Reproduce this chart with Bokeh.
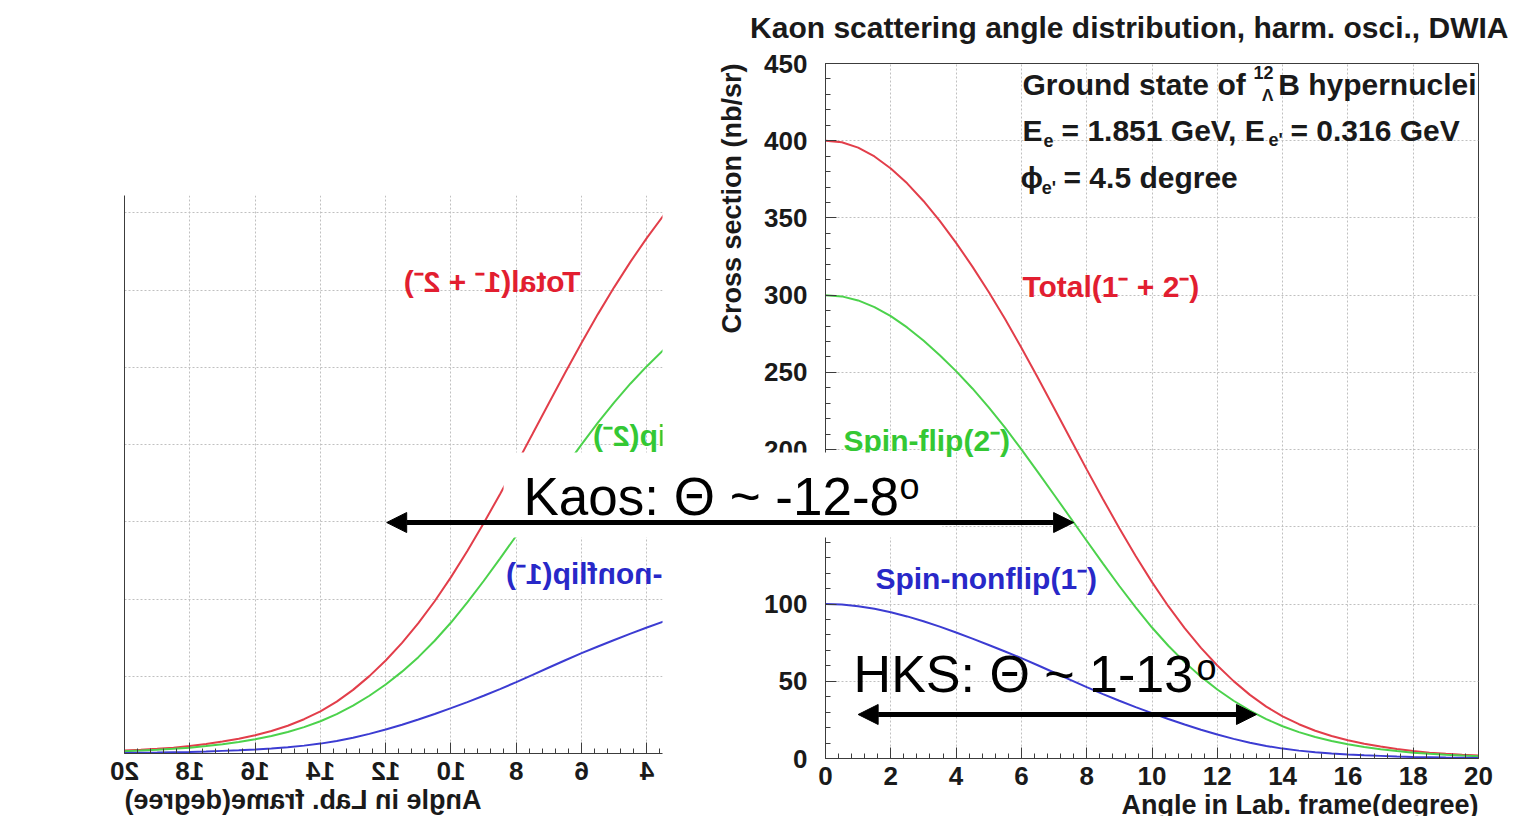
from math import pi

from bokeh.embed import file_html
from bokeh.models import (Arrow, BoxAnnotation, ColumnDataSource, Label, LinearAxis,
                          NormalHead, Range1d, SingleIntervalTicker)
from bokeh.plotting import figure
from bokeh.resources import INLINE

# ---------------------------------------------------------------- data
angle_deg = [0.0, 0.5, 1.0, 1.5, 2.0, 2.5, 3.0, 3.5, 4.0, 4.5,
             5.0, 5.5, 6.0, 6.5, 7.0, 7.5, 8.0, 8.5, 9.0, 9.5,
             10.0, 10.5, 11.0, 11.5, 12.0, 12.5, 13.0, 13.5, 14.0, 14.5,
             15.0, 15.5, 16.0, 16.5, 17.0, 17.5, 18.0, 18.5, 19.0, 19.5, 20.0]

# cross sections in nb/sr
spin_nonflip = [100.0, 99.7, 98.6, 96.9, 94.7, 92.0, 88.9, 85.4, 81.6, 77.6,
                73.5, 69.3, 65.0, 60.4, 55.7, 50.9, 46.2, 41.7, 37.4, 33.3,
                29.4, 25.6, 22.0, 18.6, 15.5, 12.7, 10.2, 8.1, 6.4, 5.1,
                4.1, 3.3, 2.6, 2.1, 1.7, 1.3, 1.0, 0.8, 0.6, 0.5, 0.4]
spin_flip = [300.0, 299.2, 296.6, 292.3, 286.4, 279.1, 270.6, 261.1, 250.8, 239.6,
             227.4, 214.2, 200.2, 185.6, 170.8, 155.9, 141.0, 126.2, 111.7, 97.8,
             84.8, 73.0, 62.4, 53.0, 44.7, 37.4, 31.0, 25.5, 20.9, 17.1,
             13.9, 11.3, 9.2, 7.4, 6.0, 4.8, 3.8, 3.0, 2.4, 1.9, 1.5]
total = [400.0, 399.0, 395.5, 389.8, 382.0, 372.4, 361.0, 348.1, 333.9, 318.5,
         302.0, 284.5, 266.0, 246.7, 226.9, 207.0, 187.2, 167.9, 149.1, 131.1,
         114.2, 98.6, 84.4, 71.6, 60.2, 50.1, 41.2, 33.6, 27.3, 22.2,
         18.0, 14.6, 11.8, 9.5, 7.7, 6.1, 4.8, 3.8, 3.0, 2.4, 1.9]

series_keys = ["total", "spin_flip", "spin_nonflip"]
series_names = ["Total(1\u207b + 2\u207b)", "Spin-flip(2\u207b)", "Spin-nonflip(1\u207b)"]
line_colors = ["#e23e4a", "#4cd24c", "#3c3cd2"]
text_colors = ["#e21e30", "#34c834", "#2828c8"]

# acceptance ranges of the two spectrometers (degrees)
kaos_range = [-12.0, 7.6]
hks_range = [1.0, 13.2]
kaos_level = 152.8
hks_level = 28.5

# ------------------------------------------------------------ geometry
W, H = 1515, 816
PX_DEG = 32.65          # pixels per degree on both panels
PX_NB = 1.5444          # pixels per nb/sr on both panels
R_LEFT, R_RIGHT, R_TOP, R_BOTTOM = 825, 1478, 63, 758     # main frame
L_W, L_EDGE, L_TOP, L_BOTTOM = 663, 538, 195, 753          # mirrored copy (unflipped coords)
L_X0 = 20 - L_EDGE / PX_DEG
MIRROR_GAP = (R_LEFT - (L_W - L_EDGE)) / PX_DEG - 20       # 0 deg offset between the panels

FONT = "Liberation Sans"
INK = "#1a1a1a"
FRAME = "#3c3c3c"

source = ColumnDataSource(dict(angle=angle_deg, total=total,
                               spin_flip=spin_flip, spin_nonflip=spin_nonflip))


def put(p, text, x, y, size, color=INK, align="left", baseline="middle",
        bold=True, angle=0.0, x_offset=0, y_offset=0):
    p.add_layout(Label(x=x, y=y, text=text, text_font=FONT,
                       text_font_size=f"{size}px",
                       text_font_style="bold" if bold else "normal",
                       text_color=color, text_align=align, text_baseline=baseline,
                       angle=angle, x_offset=x_offset, y_offset=y_offset))


def style_axis(ax, interval, labels=True):
    ax.ticker = SingleIntervalTicker(interval=interval, num_minor_ticks=5)
    ax.axis_line_color = FRAME
    ax.major_tick_line_color = FRAME
    ax.minor_tick_line_color = FRAME
    ax.major_tick_in = 11
    ax.major_tick_out = 0
    ax.minor_tick_in = 5
    ax.minor_tick_out = 0
    ax.major_label_text_font = FONT
    ax.major_label_text_font_style = "bold"
    ax.major_label_text_font_size = "26px"
    ax.major_label_text_color = INK if labels else None


def draw_panel(p):
    p.xgrid.ticker = SingleIntervalTicker(interval=2)
    p.ygrid.ticker = SingleIntervalTicker(interval=50)
    for g in (p.xgrid, p.ygrid):
        g.grid_line_color = "#c0c0c0"
        g.grid_line_dash = "2 2"
        g.grid_line_width = 1
    for key, color in zip(series_keys, line_colors):
        p.line("angle", key, source=source, line_color=color, line_width=2)
    label_at = [(6.03, 305.6), (0.55, 206.0), (1.53, 116.5)]
    for name, color, (lx, ly) in zip(series_names, text_colors, label_at):
        put(p, name, lx, ly, 30, color=color)


def sheet(width, x_range, y_range):
    """Transparent full-canvas figure sharing a panel's data scale, for free-placed text."""
    p = figure(width=width, height=H, x_range=x_range, y_range=y_range,
               output_backend="svg", toolbar_location=None, title=None,
               x_axis_location=None, y_axis_location=None,
               min_border=0, min_border_left=0, min_border_right=0,
               min_border_top=0, min_border_bottom=0,
               background_fill_color=None, border_fill_color=None,
               outline_line_color=None)
    p.grid.grid_line_color = None
    return p


def pin(z, mirrored=False):
    st = {"position": "absolute", "top": "0px", "left": "0px", "z-index": str(z)}
    if mirrored:
        st["transform"] = "scaleX(-1)"
    return st


# ------------------------------------------- mirrored copy on the left
left = figure(width=L_W, height=H, x_range=Range1d(L_X0, 20),
              y_range=Range1d(0, (L_BOTTOM - L_TOP) / PX_NB),
              output_backend="svg", toolbar_location=None, title=None,
              y_axis_location=None,
              min_border_left=0, min_border_right=L_W - L_EDGE, min_border_top=L_TOP,
              min_border_bottom=H - L_BOTTOM, background_fill_color="white",
              border_fill_color="white", outline_line_color=None)
style_axis(left.xaxis[0], 2)
left.xaxis[0].major_label_standoff = 8
edge = LinearAxis()
style_axis(edge, 50, labels=False)
edge.major_tick_line_color = None
edge.minor_tick_line_color = None
left.add_layout(edge, "right")
draw_panel(left)
left.styles = pin(0, mirrored=True)

left_sheet = sheet(L_W,
                   Range1d(L_X0, L_X0 + L_W / PX_DEG),
                   Range1d(-(H - L_BOTTOM) / PX_NB, L_BOTTOM / PX_NB))
put(left_sheet, "Angle in Lab. frame(degree)", 20, 0, 27, align="right", y_offset=-46)
left_sheet.styles = pin(1, mirrored=True)

# ------------------------------------------------ main (right) panel
right = figure(width=W, height=H, x_range=Range1d(0, 20), y_range=Range1d(0, 450),
               output_backend="svg", toolbar_location=None, title=None,
               min_border_left=R_LEFT, min_border_right=W - R_RIGHT,
               min_border_top=R_TOP, min_border_bottom=H - R_BOTTOM,
               background_fill_color="white", border_fill_color=None,
               outline_line_color=FRAME)
style_axis(right.xaxis[0], 2)
right.xaxis[0].major_label_standoff = 8
style_axis(right.yaxis[0], 50)
right.yaxis[0].major_label_standoff = 18
draw_panel(right)

# reaction / kinematics block
put(right, "Ground state of", 6.03, 436.4, 30)
put(right, "12", 13.72, 444.2, 18, align="right")
put(right, "\u039b", 13.72, 429.3, 17, align="right")
put(right, "B hypernuclei", 19.94, 436.4, 30, align="right")

put(right, "E", 6.03, 406.6, 30)
put(right, "e", 6.68, 400.2, 18)
put(right, "= 1.851 GeV, E", 7.23, 406.6, 30)
put(right, "e'", 13.57, 400.2, 18)
put(right, "= 0.316 GeV", 14.24, 406.6, 30)

put(right, "\u03d5", 5.97, 376.2, 30)
put(right, "e'", 6.62, 369.7, 18)
put(right, "= 4.5 degree", 7.29, 376.2, 30)

# page turns white where the main panel's image begins
right.styles = dict(pin(2),
                    background="linear-gradient(to right, rgba(255,255,255,0) 663px, #ffffff 663px)")

# ------------------------------- text layer in the main panel's coordinates
top_sheet = sheet(W,
                  Range1d(-R_LEFT / PX_DEG, (W - R_LEFT) / PX_DEG),
                  Range1d(-(H - R_BOTTOM) / PX_NB, R_BOTTOM / PX_NB))
put(top_sheet, "Kaon scattering angle distribution, harm. osci., DWIA", 20, 450, 30,
    align="right", x_offset=30, y_offset=36)
put(top_sheet, "Cross section (nb/sr)", 0, 450, 27, align="right", angle=pi / 2, x_offset=-94)
put(top_sheet, "Angle in Lab. frame(degree)", 20, 0, 27, align="right", y_offset=-46)

top_sheet.add_layout(BoxAnnotation(left=-9.86, right=3.58, bottom=143.1, top=198.1,
                                   fill_color="white", fill_alpha=1.0, line_color=None))
put(top_sheet, "Kaos: \u0398 ~ -12-8", -9.25, 169.6, 53, color="#000000", bold=False)
put(top_sheet, "o", 2.27, 176.0, 36, color="#000000", bold=False)
put(top_sheet, "HKS: \u0398 ~ 1-13", 0.86, 54.4, 52, color="#000000", bold=False)
put(top_sheet, "o", 11.36, 58.8, 36, color="#000000", bold=False)

# the Kaos arrow starts on the mirrored panel
for (a0, a1), lvl in (((kaos_range[0] - MIRROR_GAP, kaos_range[1]), kaos_level),
                      ((hks_range[0], hks_range[1]), hks_level)):
    top_sheet.add_layout(Arrow(x_start=a0, y_start=lvl, x_end=a1, y_end=lvl,
                               line_color="black", line_width=5,
                               start=NormalHead(size=20, fill_color="black", line_color="black"),
                               end=NormalHead(size=20, fill_color="black", line_color="black")))
top_sheet.styles = pin(3)

with open("out.html", "w") as f:
    f.write(file_html([left, left_sheet, right, top_sheet], INLINE))
